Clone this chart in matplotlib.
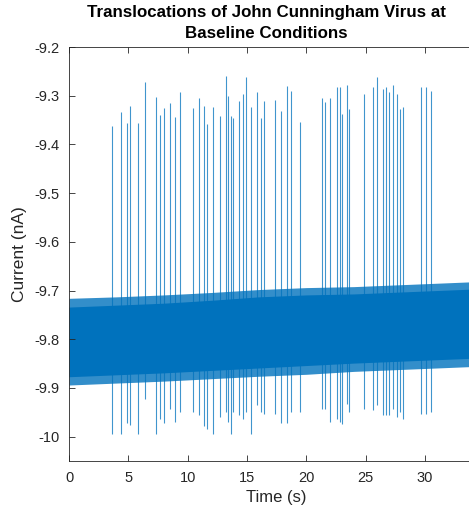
import matplotlib
matplotlib.use("Agg")
import matplotlib.pyplot as plt

# Translocation events: time (s), peak (upward, nA), trough (downward, nA)
event_time = [3.60, 4.38, 4.89, 5.14, 5.84, 6.40, 7.33, 7.69, 7.98, 8.51,
              8.90, 9.33, 10.47, 10.95, 11.35, 11.60, 12.13, 12.70, 13.20, 13.37,
              13.62, 13.82, 14.30, 14.63, 14.91, 15.33, 15.86, 16.15, 16.43, 17.35,
              17.84, 18.39, 18.70, 19.46, 21.29, 21.57, 22.01, 22.55, 22.83, 23.00,
              23.45, 23.61, 24.88, 25.64, 25.92, 26.43, 26.68, 26.93, 27.27, 27.61,
              27.89, 28.16, 29.68, 30.05, 30.47]
event_top = [-9.363, -9.334, -9.357, -9.322, -9.356, -9.271, -9.303, -9.339, -9.325, -9.315,
             -9.343, -9.293, -9.326, -9.305, -9.322, -9.359, -9.324, -9.342, -9.259, -9.301,
             -9.341, -9.346, -9.311, -9.296, -9.261, -9.324, -9.292, -9.345, -9.311, -9.309,
             -9.331, -9.281, -9.290, -9.354, -9.305, -9.313, -9.305, -9.283, -9.283, -9.337,
             -9.279, -9.327, -9.296, -9.283, -9.262, -9.286, -9.283, -9.293, -9.279, -9.296,
             -9.327, -9.324, -9.283, -9.283, -9.290]
event_bot = [-9.994, -9.994, -9.973, -9.977, -9.994, -9.922, -9.994, -9.963, -9.973, -9.943,
             -9.969, -9.949, -9.949, -9.956, -9.979, -9.984, -9.994, -9.959, -9.949, -9.969,
             -9.994, -9.949, -9.956, -9.963, -9.949, -9.994, -9.936, -9.949, -9.953, -9.953,
             -9.973, -9.973, -9.949, -9.949, -9.943, -9.943, -9.969, -9.963, -9.969, -9.975,
             -9.932, -9.949, -9.943, -9.946, -9.936, -9.956, -9.956, -9.956, -9.943, -9.959,
             -9.949, -9.963, -9.953, -9.953, -9.949]

# Baseline noise envelope
band_time = [0, 4, 8, 12, 16, 20, 24, 28, 32, 35]
band_top = [-9.734, -9.730, -9.726, -9.720, -9.713, -9.709, -9.707, -9.703, -9.699, -9.696]
band_bot = [-9.877, -9.873, -9.869, -9.864, -9.859, -9.854, -9.849, -9.845, -9.841, -9.838]
fringe_top = [-9.716, -9.713, -9.709, -9.704, -9.698, -9.694, -9.692, -9.688, -9.684, -9.681]
fringe_bot = [-9.894, -9.890, -9.886, -9.881, -9.876, -9.872, -9.866, -9.862, -9.858, -9.855]

x_ticks = [0, 5, 10, 15, 20, 25, 30]
y_ticks = [-10, -9.9, -9.8, -9.7, -9.6, -9.5, -9.4, -9.3, -9.2]
y_ticklabels = ["-10", "-9.9", "-9.8", "-9.7", "-9.6", "-9.5", "-9.4", "-9.3", "-9.2"]

plt.rcParams['font.family'] = ['Liberation Sans', 'DejaVu Sans']
line_color = '#0072BD'
axis_color = '#262626'

fig = plt.figure(figsize=(4.69, 5.14), dpi=100)
W, H = 469, 514
left_px, right_px, top_px, bot_px = 69, 69 + 35 * 11.87, 47, 461
ax = fig.add_axes([left_px / W, 1 - bot_px / H, (right_px - left_px) / W, (bot_px - top_px) / H])

ax.fill_between(band_time, fringe_bot, fringe_top, color=line_color, alpha=0.8, lw=0)
ax.fill_between(band_time, band_bot, band_top, color=line_color, lw=0)
ax.vlines(event_time, event_bot, event_top, color=line_color, lw=0.8, alpha=0.75)

ax.set_xlim(0, 35)
ax.set_ylim(-10.05, -9.2)
ax.set_xticks(x_ticks)
ax.set_yticks(y_ticks)
ax.set_yticklabels(y_ticklabels)
ax.tick_params(direction='in', length=4, width=0.6, colors=axis_color,
               labelsize=10.5, top=True, right=True, pad=7)
for s in ax.spines.values():
    s.set_color(axis_color)
    s.set_linewidth(0.6)

ax.set_xlabel("Time (s)", fontsize=12, color=axis_color, labelpad=4)
ax.set_ylabel("Current (nA)", fontsize=12.5, color=axis_color, labelpad=5)

fig.text(266 / W, 1 - 13 / H, "Translocations of John Cunningham Virus at",
         ha='center', va='center', fontsize=12.2, fontweight='bold', color='black')
fig.text(266 / W, 1 - 33 / H, "Baseline Conditions",
         ha='center', va='center', fontsize=12.2, fontweight='bold', color='black')

fig.savefig("out.png", dpi=100)
